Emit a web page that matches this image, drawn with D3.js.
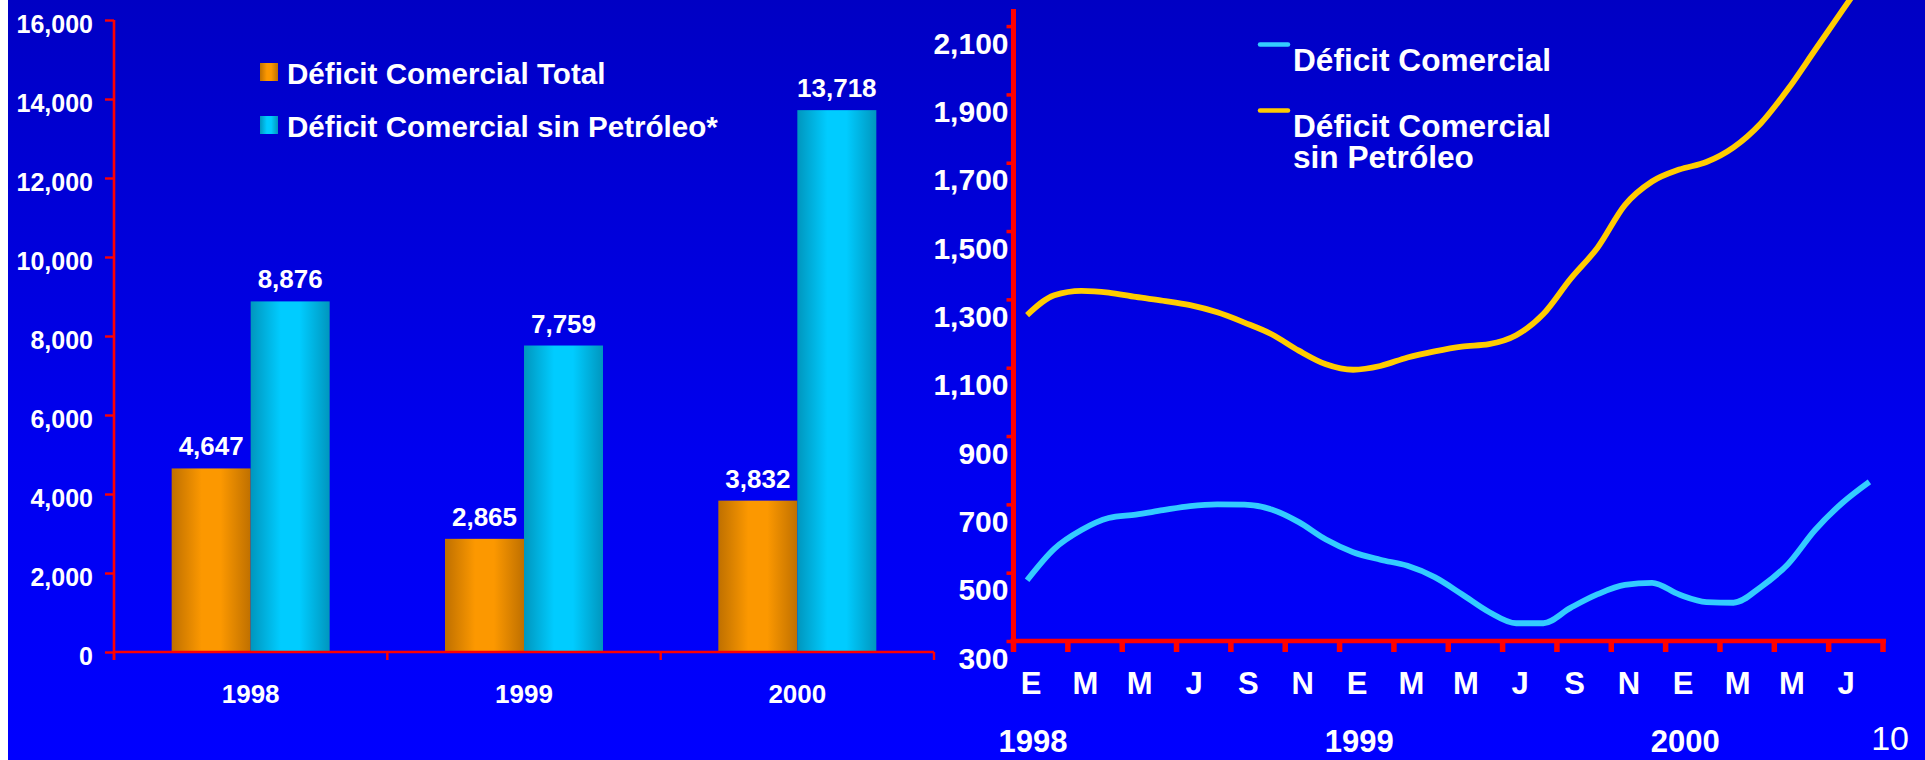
<!DOCTYPE html>
<html>
<head>
<meta charset="utf-8">
<script src="https://cdn.jsdelivr.net/npm/d3@7"></script>
<style>
  html, body { margin: 0; padding: 0; background: #ffffff; overflow: hidden; }
  svg { display: block; }
  text { font-family: "Liberation Sans", Arial, Helvetica, sans-serif; fill: #ffffff; }
</style>
</head>
<body>
<svg id="chart" width="1925" height="760"></svg>
<script>
// ---- Annual trade deficit (millions of dollars) ----
const years = ["1998", "1999", "2000"];
const barSeries = ["Déficit Comercial Total", "Déficit Comercial sin Petróleo*"];
const totalDeficit = [4647, 2865, 3832];
const nonOilDeficit = [8876, 7759, 13718];
const barTicks = [0, 2000, 4000, 6000, 8000, 10000, 12000, 14000, 16000];

// ---- Monthly trade deficit, Jan 1998 – Aug 2000 ----
const months = [
  "1998-01","1998-02","1998-03","1998-04","1998-05","1998-06","1998-07","1998-08",
  "1998-09","1998-10","1998-11","1998-12","1999-01","1999-02","1999-03","1999-04",
  "1999-05","1999-06","1999-07","1999-08","1999-09","1999-10","1999-11","1999-12",
  "2000-01","2000-02","2000-03","2000-04","2000-05","2000-06","2000-07","2000-08"
];
const monthlyDeficit = [
  478, 570, 625, 660, 670, 683, 695, 700, 699, 685, 648, 597, 560, 538, 520, 487,
  437, 385, 352, 352, 397, 437, 464, 470, 436, 414, 412, 458, 525, 625, 704, 766
];
const monthlyNonOil = [
  1254, 1312, 1325, 1320, 1307, 1296, 1283, 1262, 1232, 1198, 1150, 1110, 1094, 1105, 1130, 1148,
  1162, 1169, 1195, 1257, 1360, 1452, 1576, 1645, 1680, 1702, 1745, 1815, 1915, 2030, 2145, 2260
];
const lineSeries = ["Déficit Comercial", "Déficit Comercial sin Petróleo"];
const monthTickLabels = ["E","M","M","J","S","N","E","M","M","J","S","N","E","M","M","J"];
const yearLabels = ["1998", "1999", "2000"];
const yearStartMonths = ["1998-01", "1999-01", "2000-01"];
const lineTicks = [300, 500, 700, 900, 1100, 1300, 1500, 1700, 1900, 2100];
const pageNumber = "10";

const svg = d3.select("#chart");
const W = 1925, H = 760;
const RED = "#ff0000";

// ---- Backdrop ----
const defs = svg.append("defs");
const bg = defs.append("linearGradient").attr("id", "bgGrad")
  .attr("x1", 0).attr("y1", 0).attr("x2", 0).attr("y2", 1);
bg.append("stop").attr("offset", "0%").attr("stop-color", "#0000c4");
bg.append("stop").attr("offset", "60%").attr("stop-color", "#0000f0");
bg.append("stop").attr("offset", "100%").attr("stop-color", "#0000ff");

function barGradient(id, edge, mid) {
  const g = defs.append("linearGradient").attr("id", id)
    .attr("x1", 0).attr("y1", 0).attr("x2", 1).attr("y2", 0);
  g.append("stop").attr("offset", "0%").attr("stop-color", edge);
  g.append("stop").attr("offset", "38%").attr("stop-color", mid);
  g.append("stop").attr("offset", "62%").attr("stop-color", mid);
  g.append("stop").attr("offset", "100%").attr("stop-color", edge);
}
barGradient("gradOrange", "#bf7000", "#fc9800");
barGradient("gradCyan", "#0096be", "#00ccff");
const barFills = ["url(#gradOrange)", "url(#gradCyan)"];

svg.append("rect").attr("x", 8).attr("y", 0).attr("width", W - 8).attr("height", H)
  .attr("fill", "url(#bgGrad)");

// =========================================================
// Left panel: grouped bars
// =========================================================
const L = { left: 114, right: 934, top: 20, bottom: 652 };
const yL = d3.scaleLinear().domain([0, 16000]).range([L.bottom, L.top]);
const x0 = d3.scaleBand().domain(years).range([L.left, L.right]).padding(0);
const x1 = d3.scaleBand().domain(barSeries).range([0, x0.bandwidth()])
  .paddingInner(0).paddingOuter(0.73);
const fmt = d3.format(",");

const left = svg.append("g");

// bars
const barData = years.map((yr, i) => ({
  year: yr,
  values: [
    { series: barSeries[0], value: totalDeficit[i], fill: barFills[0] },
    { series: barSeries[1], value: nonOilDeficit[i], fill: barFills[1] }
  ]
}));
const groups = left.selectAll("g.year").data(barData).join("g")
  .attr("class", "year")
  .attr("transform", d => `translate(${x0(d.year)},0)`);
groups.selectAll("rect").data(d => d.values).join("rect")
  .attr("x", d => x1(d.series))
  .attr("width", x1.bandwidth())
  .attr("y", d => yL(d.value))
  .attr("height", d => yL(0) - yL(d.value))
  .attr("fill", d => d.fill);
groups.selectAll("text").data(d => d.values).join("text")
  .attr("x", d => x1(d.series) + x1.bandwidth() / 2)
  .attr("y", d => yL(d.value) - 13)
  .attr("text-anchor", "middle")
  .attr("font-size", 26).attr("font-weight", "bold")
  .text(d => fmt(d.value));

// y axis
const yAxisL = d3.axisLeft(yL).tickValues(barTicks).tickSize(9).tickFormat(fmt);
const gyL = left.append("g").attr("transform", `translate(${L.left},0)`).call(yAxisL);
gyL.select(".domain").attr("stroke", RED).attr("stroke-width", 2.6)
  .attr("d", `M0,${L.top}V${L.bottom + 8}`);
gyL.selectAll(".tick line").attr("stroke", RED).attr("stroke-width", 2.4);
gyL.selectAll(".tick text")
  .attr("x", -21).attr("dy", null).attr("y", 12)
  .attr("font-size", 25).attr("font-weight", "bold")
  .attr("font-family", null).attr("fill", "#ffffff");

// x axis (tick marks at group boundaries)
const gxL = left.append("g").attr("transform", `translate(0,${L.bottom})`);
gxL.append("path").attr("d", `M${L.left},0H${L.right}`)
  .attr("stroke", RED).attr("stroke-width", 2.6).attr("fill", "none");
const boundaries = years.map(y => x0(y)).concat([L.right]);
gxL.selectAll("line.b").data(boundaries).join("line").attr("class", "b")
  .attr("x1", d => d).attr("x2", d => d).attr("y1", 0).attr("y2", 8)
  .attr("stroke", RED).attr("stroke-width", 2.4);
gxL.selectAll("text").data(years).join("text")
  .attr("x", d => x0(d) + x0.bandwidth() / 2)
  .attr("y", 51)
  .attr("text-anchor", "middle")
  .attr("font-size", 26).attr("font-weight", "bold")
  .text(d => d);

// legend
const legL = left.append("g").attr("transform", "translate(260,63)");
barSeries.forEach((s, i) => {
  const g = legL.append("g").attr("transform", `translate(0,${i * 53})`);
  g.append("rect").attr("width", 18).attr("height", 18).attr("fill", barFills[i]);
  g.append("text").attr("x", 27).attr("y", 21)
    .attr("font-size", 29.6).attr("font-weight", "bold").text(s);
});

// =========================================================
// Right panel: monthly lines
// =========================================================
const R = { left: 1013.5, right: 1883, top: 9, bottom: 641 };
const xR = d3.scaleBand().domain(months).range([R.left, R.right]).padding(0);
const yR = d3.scaleLinear().domain([300, 2150]).range([R.bottom, R.top]);
const right = svg.append("g");

// y axis
const yAxisR = d3.axisLeft(yR).tickValues(lineTicks).tickSize(7).tickFormat(fmt);
const gyR = right.append("g").attr("transform", `translate(${R.left},0)`).call(yAxisR);
gyR.select(".domain").attr("stroke", RED).attr("stroke-width", 5)
  .attr("d", `M0,${R.top}V${R.bottom + 2}`);
gyR.selectAll(".tick line").attr("stroke", RED).attr("stroke-width", 3.5);
gyR.selectAll(".tick text")
  .attr("x", -5).attr("dy", null).attr("y", 27)
  .attr("font-size", 30).attr("font-weight", "bold")
  .attr("font-family", null).attr("fill", "#ffffff");

// x axis: tick every other month
const tickMonths = months.filter((m, i) => i % 2 === 0);
const gxR = right.append("g").attr("transform", `translate(0,${R.bottom})`);
gxR.append("path").attr("d", `M${R.left - 3},0H${R.right + 3}`)
  .attr("stroke", RED).attr("stroke-width", 4.5).attr("fill", "none");
gxR.selectAll("line.t").data(tickMonths.concat(["end"])).join("line").attr("class", "t")
  .attr("x1", d => d === "end" ? R.right : xR(d))
  .attr("x2", d => d === "end" ? R.right : xR(d))
  .attr("y1", 0).attr("y2", 11)
  .attr("stroke", RED).attr("stroke-width", 5.5);
gxR.selectAll("text.m").data(tickMonths).join("text").attr("class", "m")
  .attr("x", d => xR(d) + xR.bandwidth() / 2 + 4)
  .attr("y", 53)
  .attr("text-anchor", "middle")
  .attr("font-size", 31).attr("font-weight", "bold")
  .text((d, i) => monthTickLabels[i]);
gxR.selectAll("text.y").data(yearStartMonths).join("text").attr("class", "y")
  .attr("x", d => xR(d) + xR.bandwidth() / 2 + 6)
  .attr("y", 111)
  .attr("text-anchor", "middle")
  .attr("font-size", 31).attr("font-weight", "bold")
  .text((d, i) => yearLabels[i]);

// lines
const lineColors = ["#33ccff", "#ffcc00"];
const line = d3.line()
  .x((d, i) => xR(months[i]) + xR.bandwidth() / 2)
  .y(d => yR(d))
  .curve(d3.curveMonotoneX);
[monthlyNonOil, monthlyDeficit].forEach((vals, k) => {
  right.append("path").datum(vals)
    .attr("d", line)
    .attr("fill", "none")
    .attr("stroke", lineColors[k === 0 ? 1 : 0])
    .attr("stroke-width", 5.8)
    .attr("stroke-linejoin", "round");
});

// legend
const legR = right.append("g").attr("transform", "translate(1258,0)");
const legRows = [
  { lines: ["Déficit Comercial"], y: 44.5, color: lineColors[0] },
  { lines: ["Déficit Comercial", "sin Petróleo"], y: 110.5, color: lineColors[1] }
];
legRows.forEach(r => {
  legR.append("line").attr("x1", 2).attr("x2", 30).attr("y1", r.y).attr("y2", r.y)
    .attr("stroke", r.color).attr("stroke-width", 4.5).attr("stroke-linecap", "round");
  const t = legR.append("text").attr("x", 35).attr("y", r.y + 26)
    .attr("font-size", 31.6).attr("font-weight", "bold");
  r.lines.forEach((ln, j) => {
    t.append("tspan").attr("x", 35).attr("dy", j === 0 ? 0 : 31.5).text(ln);
  });
});

// page number
svg.append("text").attr("x", 1909).attr("y", 750)
  .attr("text-anchor", "end").attr("font-size", 34)
  .text(pageNumber);
</script>
</body>
</html>
